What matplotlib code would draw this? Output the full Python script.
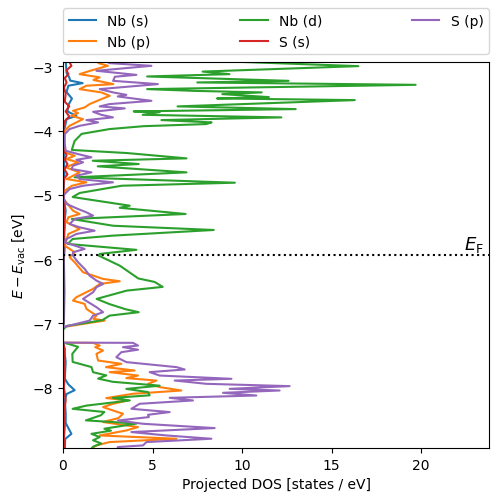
import matplotlib
matplotlib.use("Agg")
import matplotlib.pyplot as plt

# Fermi level [eV]
e_fermi = -5.94

# Nb (s)
e_nb_s = [-2.90, -3.10, -3.17, -3.22, -3.26, -3.30, -3.40, -3.50, -3.60, -3.70, -3.77, -3.82,
          -3.95, -4.10, -4.40, -4.70, -5.00, -5.25, -5.50, -5.80, -6.00, -6.50, -7.00, -7.05,
          -7.30, -7.35, -7.60, -7.86, -7.95, -8.04, -8.10, -8.20, -8.40, -8.55, -8.72, -8.80, -8.98]
dos_nb_s = [0.15, 0.20, 0.35, 0.40, 1.10, 0.30, 0.20, 0.50, 0.30, 0.25, 0.75, 0.20,
            0.10, 0.02, 0.05, 0.08, 0.02, 0.15, 0.05, 0.10, 0.05, 0.08, 0.05, 0.0,
            0.0, 0.05, 0.15, 0.10, 0.30, 0.65, 0.20, 0.10, 0.15, 0.15, 0.47, 0.12, 0.10]

# Nb (p)
e_nb_p = [-2.90, -2.95, -2.99, -3.07, -3.12, -3.17, -3.21, -3.275, -3.30, -3.353, -3.404, -3.457,
          -3.509, -3.586, -3.638, -3.69, -3.726, -3.768, -3.82, -3.871, -3.924, -4.00, -4.10,
          -4.337, -4.39, -4.442, -4.493, -4.571, -4.649, -4.753, -4.804, -4.857, -4.935, -5.06,
          -5.246, -5.297, -5.348, -5.426, -5.53, -5.608, -5.79, -5.893, -5.97, -6.048, -6.204,
          -6.308, -6.344, -6.386, -6.463, -6.592, -6.645, -6.697, -6.775, -6.879, -6.93, -6.956,
          -7.008, -7.059, -7.30, -7.303, -7.345, -7.37, -7.423, -7.474, -7.578, -7.63, -7.681,
          -7.734, -7.759, -7.812, -7.852, -7.89, -7.941, -7.992, -8.045, -8.096, -8.163, -8.20,
          -8.252, -8.303, -8.356, -8.407, -8.474, -8.536, -8.614, -8.667, -8.745, -8.796, -8.848,
          -8.90, -8.925, -8.98]
dos_nb_p = [1.80, 2.00, 2.51, 1.49, 0.93, 2.05, 1.70, 2.81, 1.31, 0.93, 2.14, 2.61,
            2.14, 1.49, 1.21, 0.56, 0.84, 0.47, 1.12, 0.75, 0.37, 0.10, 0.0,
            0.10, 0.65, 0.20, 0.84, 0.15, 0.93, 0.20, 1.31, 0.50, 0.10, 0.02,
            0.56, 0.93, 0.30, 0.20, 0.93, 0.30, 0.10, 0.65, 0.37, 0.65, 1.12,
            2.24, 3.17, 2.05, 1.68, 0.75, 0.56, 1.21, 1.31, 1.87, 1.70, 2.33,
            1.12, 0.0, 0.0, 1.68, 2.05, 1.80, 2.24, 1.87, 1.96, 3.26, 2.40,
            4.00, 2.61, 4.19, 3.54, 5.22, 4.75, 5.40, 6.61, 3.91, 2.42, 3.63,
            2.79, 2.24, 2.79, 3.35, 3.10, 2.24, 4.19, 3.54, 2.05, 6.34, 2.60,
            1.87, 1.70, 1.60]

# Nb (d)
e_nb_d = [-2.90, -2.995, -3.08, -3.12, -3.156, -3.224, -3.249, -3.286, -3.353, -3.38, -3.404,
          -3.431, -3.477, -3.498, -3.524, -3.622, -3.664, -3.700, -3.711, -3.753, -3.793, -3.835,
          -3.871, -3.897, -3.93, -3.975, -4.05, -4.16, -4.30, -4.348, -4.431, -4.468, -4.519,
          -4.555, -4.649, -4.726, -4.81, -4.857, -4.97, -5.033, -5.168, -5.20, -5.297, -5.375,
          -5.48, -5.546, -5.634, -5.686, -5.763, -5.855, -5.919, -5.946, -6.101, -6.23, -6.30,
          -6.355, -6.432, -6.49, -6.619, -6.70, -6.78, -6.826, -6.879, -6.95, -7.008, -7.039,
          -7.10, -7.30, -7.319, -7.365, -7.474, -7.60, -7.68, -7.76, -7.81, -7.86, -7.91, -7.97,
          -8.02, -8.07, -8.12, -8.16, -8.20, -8.28, -8.33, -8.38, -8.43, -8.51, -8.56, -8.64,
          -8.67, -8.72, -8.77, -8.82, -8.87, -8.92, -8.98]
dos_nb_d = [7.0, 16.5, 7.8, 9.3, 4.7, 12.6, 7.5, 19.7, 4.7, 7.3, 11.1,
            8.9, 11.5, 8.6, 16.3, 6.4, 13.0, 3.95, 5.4, 4.45, 12.2, 5.5,
            8.3, 8.0, 4.5, 2.6, 1.04, 0.65, 0.49, 3.56, 6.9, 1.66, 4.23,
            1.94, 6.9, 0.65, 9.6, 3.28, 0.93, 0.54, 3.73, 3.17, 6.85, 0.49,
            2.8, 8.42, 2.78, 0.54, 0.26, 4.1, 2.05, 2.0, 3.17, 3.84, 4.2,
            5.12, 5.57, 3.56, 1.88, 2.6, 3.5, 4.23, 2.6, 2.2, 0.93, 0.2,
            0.0, 0.0, 0.3, 0.84, 0.52, 0.54, 1.59, 1.68, 2.42, 1.96, 2.79, 5.4,
            3.54, 4.75, 4.84, 2.79, 3.73, 1.31, 0.54, 2.31, 2.12, 1.28, 4.1, 2.31,
            2.68, 1.59, 2.05, 1.68, 2.14, 1.68, 1.5]

# S (s)
e_s_s = [-2.90, -2.99, -3.06, -3.12, -3.18, -3.25, -3.33, -3.42, -3.55, -3.62, -3.70, -3.78,
         -3.85, -3.95, -4.30, -4.38, -4.45, -4.52, -4.60, -4.68, -4.75, -4.95, -5.20, -5.50,
         -5.70, -6.00, -7.00, -7.05, -7.30, -7.40, -7.60, -7.80, -8.00, -8.20, -8.40, -8.60,
         -8.80, -8.98]
dos_s_s = [0.30, 0.47, 0.20, 0.30, 0.10, 0.20, 0.05, 0.15, 0.10, 0.35, 0.15, 0.35,
           0.10, 0.02, 0.03, 0.20, 0.10, 0.25, 0.08, 0.25, 0.05, 0.02, 0.05, 0.10,
           0.03, 0.02, 0.02, 0.0, 0.0, 0.10, 0.05, 0.10, 0.05, 0.15, 0.05, 0.10,
           0.05, 0.10]

# S (p)
e_s_p = [-2.90, -2.949, -2.99, -3.068, -3.131, -3.16, -3.224, -3.275, -3.353, -3.404, -3.442,
         -3.467, -3.498, -3.535, -3.586, -3.622, -3.653, -3.706, -3.753, -3.793, -3.835, -3.871,
         -3.924, -3.975, -4.053, -4.20, -4.313, -4.364, -4.415, -4.453, -4.493, -4.546, -4.597,
         -4.649, -4.701, -4.753, -4.804, -4.857, -4.908, -4.986, -5.037, -5.141, -5.219, -5.271,
         -5.323, -5.375, -5.453, -5.504, -5.557, -5.608, -5.686, -5.737, -5.841, -5.893, -5.946,
         -6.048, -6.152, -6.257, -6.334, -6.386, -6.437, -6.515, -6.619, -6.748, -6.826, -6.879,
         -6.956, -7.008, -7.059, -7.30, -7.303, -7.345, -7.37, -7.41, -7.448, -7.526, -7.603,
         -7.681, -7.718, -7.759, -7.812, -7.863, -7.89, -7.941, -7.977, -8.019, -8.045, -8.081,
         -8.123, -8.159, -8.20, -8.252, -8.33, -8.381, -8.423, -8.459, -8.512, -8.563, -8.63,
         -8.692, -8.745, -8.796, -8.848, -8.90, -8.925, -8.98]
dos_s_p = [2.3, 2.6, 4.94, 1.87, 4.1, 2.9, 2.8, 5.3, 2.05, 2.8, 3.54,
           3.06, 3.9, 4.94, 2.6, 2.05, 3.45, 1.68, 2.14, 2.79, 1.31, 1.96,
           0.93, 0.37, 0.1, 0.1, 0.15, 0.84, 1.59, 0.75, 1.12, 0.56, 0.47,
           1.59, 0.75, 0.93, 2.79, 1.12, 0.37, 0.1, 0.0, 0.2, 0.84, 1.31,
           1.68, 0.65, 0.37, 0.93, 1.77, 0.75, 0.2, 0.1, 1.21, 0.56, 0.56,
           0.84, 1.21, 1.49, 1.87, 2.24, 1.87, 1.68, 1.12, 1.87, 2.24, 1.68,
           1.49, 0.75, 0.0, 0.0, 3.91, 4.19, 3.35, 4.19, 3.26, 2.98, 3.54,
           6.34, 6.8, 4.84, 5.4, 9.41, 6.24, 8.01, 12.66, 9.31, 12.1, 8.94,
           10.8, 5.96, 7.26, 4.28, 3.82, 5.96, 4.75, 4.8, 3.07, 4.47, 8.47,
           3.82, 5.78, 8.29, 4.66, 4.47, 3.07, 3.0]

fig = plt.figure(figsize=(4.98, 5.02), dpi=100)
ax = fig.add_axes([0.1265, 0.1056, 0.8555, 0.769])

ax.plot(dos_nb_s, e_nb_s, label='Nb (s)')
ax.plot(dos_nb_p, e_nb_p, label='Nb (p)')
ax.plot(dos_nb_d, e_nb_d, label='Nb (d)')
ax.plot(dos_s_s, e_s_s, label='S (s)')
ax.plot(dos_s_p, e_s_p, label='S (p)')

ax.axhline(e_fermi, color='k', linestyle=':')
ax.text(23.5, e_fermi + 0.02, r'$E_\mathrm{F}$', ha='right', va='bottom', fontsize=13)

ax.set_xlim(0, 23.8)
ax.set_ylim(-8.94, -2.93)
ax.set_xticks([0, 5, 10, 15, 20])
ax.set_yticks([-8, -7, -6, -5, -4, -3])
ax.set_xlabel('Projected DOS [states / eV]')
ax.set_ylabel(r'$E - E_\mathrm{vac}$ [eV]')

ax.legend(bbox_to_anchor=(0, 1.02, 1, 0.2), loc='lower left', mode='expand',
          ncol=3, borderaxespad=0)

fig.savefig('out.png', dpi=100)
